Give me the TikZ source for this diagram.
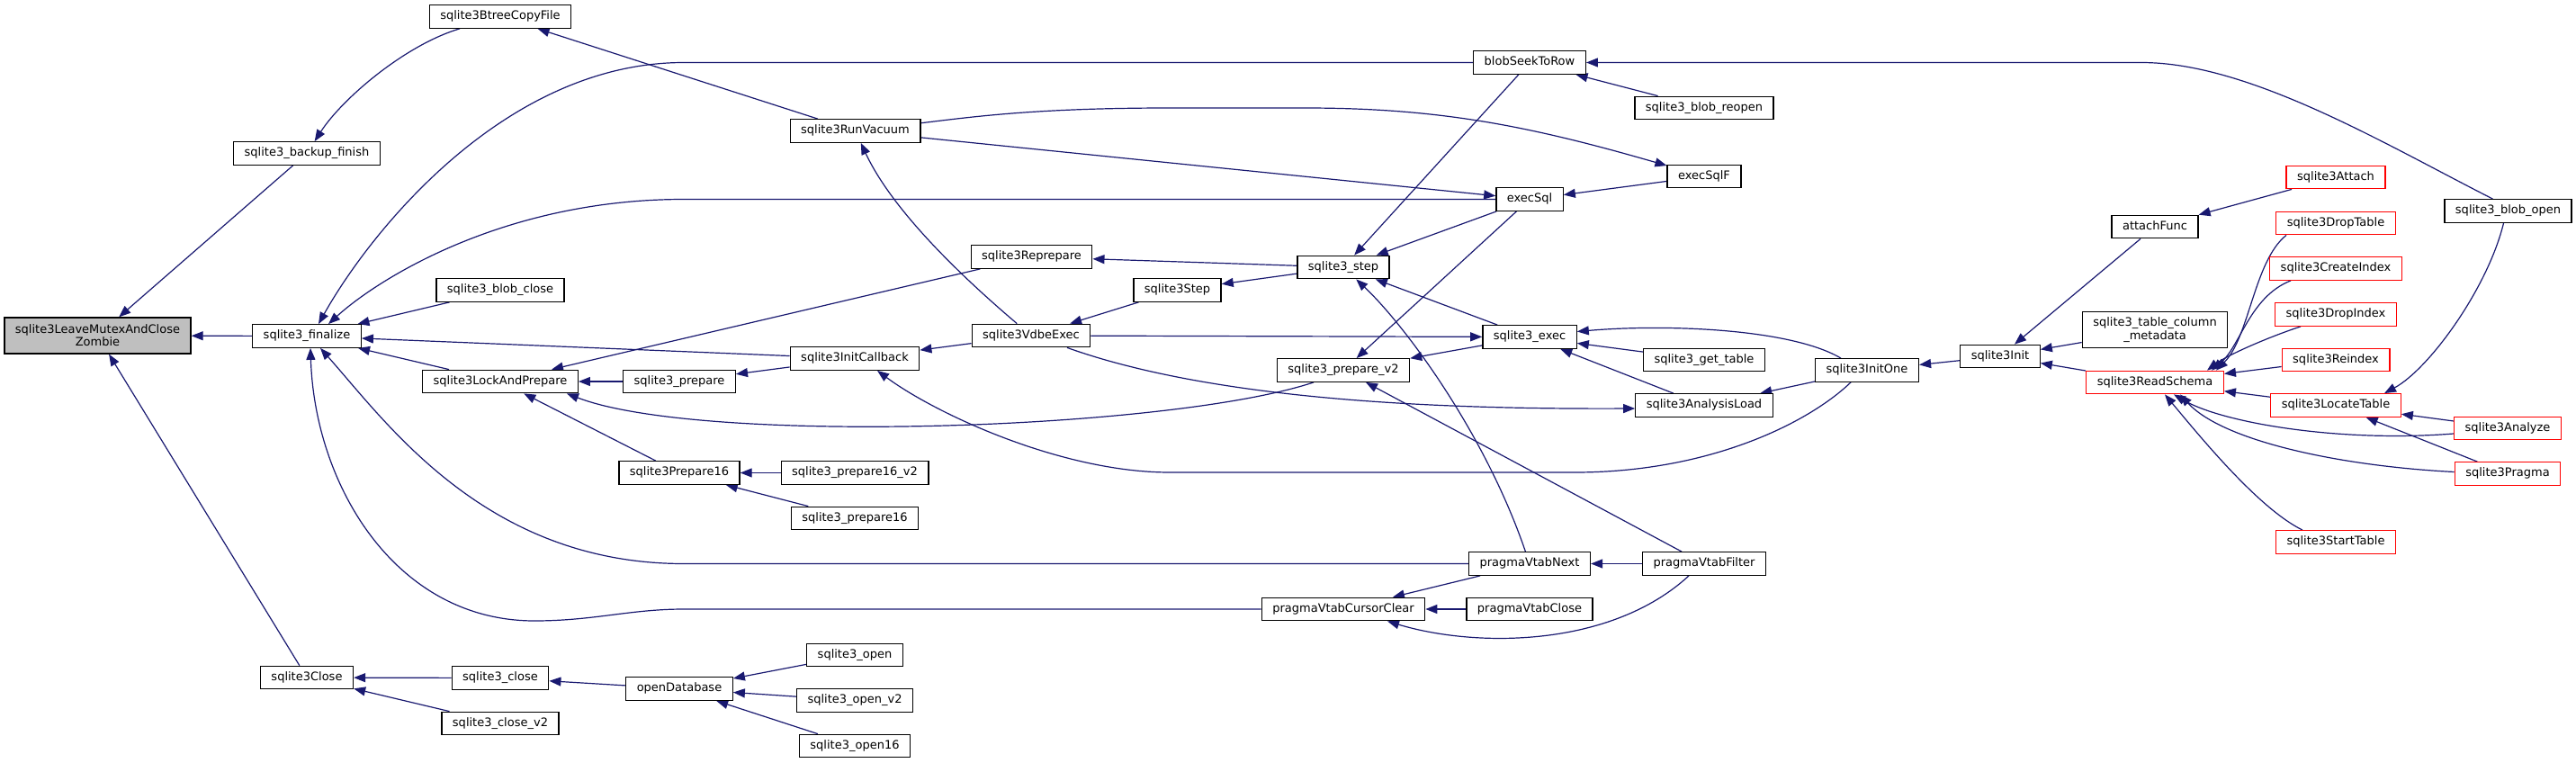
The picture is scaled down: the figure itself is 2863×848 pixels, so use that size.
\documentclass[tikz,border=0pt]{standalone}
\usepackage{fontspec}
\setmainfont{DejaVu Sans}
\usetikzlibrary{arrows.meta}
\pgfdeclarelayer{bg}
\pgfsetlayers{bg,main}
\definecolor{edgecol}{HTML}{191970}
\definecolor{rootfill}{HTML}{BFBFBF}
\definecolor{trunc}{HTML}{FF0000}
\begin{document}
\begin{tikzpicture}[x=1pt,y=-1pt,
  fn/.style={draw=black, fill=white, line width=1.3pt, inner xsep=12pt, inner ysep=0pt,
    minimum height=25.5pt, font=\fontsize{13}{14.3}\selectfont, text height=9.6pt, text depth=3pt},
  fntwo/.style={draw=black, fill=white, line width=1.3pt, inner xsep=12pt, inner ysep=2pt,
    minimum height=40pt, align=center, font=\fontsize{13}{14.3}\selectfont},
  rfn/.style={fn, draw=trunc},
  cg/.style={draw=edgecol, line width=1.2pt, arrows={Triangle[length=13pt,width=10pt]-}}]
\useasboundingbox (0,0) rectangle (2863,848);
% nodes
\node[fntwo, fill=rootfill] (root) at (108.5,373) {sqlite3LeaveMutexAndClose\\Zombie};
\node[fn] (fin) at (341,373.5) {sqlite3\_finalize};
\node[fn] (bkf) at (341,170.5) {sqlite3\_backup\_finish};
\node[fn] (cls) at (341,753) {sqlite3Close};
\node[fn] (btc) at (556,18.5) {sqlite3BtreeCopyFile};
\node[fn] (blc) at (556,322.5) {sqlite3\_blob\_close};
\node[fn] (lap) at (556,424) {sqlite3LockAndPrepare};
\node[fn] (close) at (556,753.5) {sqlite3\_close};
\node[fn] (closev2) at (556,804) {sqlite3\_close\_v2};
\node[fn] (prep) at (755,424) {sqlite3\_prepare};
\node[fn] (p16) at (755,525.5) {sqlite3Prepare16};
\node[fn] (odb) at (755,765.5) {openDatabase};
\node[fn] (rvac) at (950.5,145.5) {sqlite3RunVacuum};
\node[fn] (icb) at (950,398.5) {sqlite3InitCallback};
\node[fn] (p16v2) at (950,525.5) {sqlite3\_prepare16\_v2};
\node[fn] (p16b) at (950,576) {sqlite3\_prepare16};
\node[fn] (open) at (950,728) {sqlite3\_open};
\node[fn] (openv2) at (950,778.5) {sqlite3\_open\_v2};
\node[fn] (open16) at (950,829) {sqlite3\_open16};
\node[fn] (repr) at (1146.5,285.5) {sqlite3Reprepare};
\node[fn] (vdbe) at (1146,373) {sqlite3VdbeExec};
\node[fn] (vstep) at (1308.5,322.5) {sqlite3Step};
\node[fn] (step) at (1493,297) {sqlite3\_step};
\node[fn] (pv2) at (1493,411.5) {sqlite3\_prepare\_v2};
\node[fn] (vcc) at (1493,677) {pragmaVtabCursorClear};
\node[fn] (bstr) at (1700,69.5) {blobSeekToRow};
\node[fn] (esql) at (1700,221.5) {execSql};
\node[fn] (exec) at (1700,374.5) {sqlite3\_exec};
\node[fn] (vnext) at (1700,626.5) {pragmaVtabNext};
\node[fn] (vclose) at (1700,677) {pragmaVtabClose};
\node[fn] (breo) at (1894,120) {sqlite3\_blob\_reopen};
\node[fn] (esqf) at (1894,196) {execSqlF};
\node[fn] (gtab) at (1894,400) {sqlite3\_get\_table};
\node[fn] (aload) at (1894,450.5) {sqlite3AnalysisLoad};
\node[fn] (vfilt) at (1894,626.5) {pragmaVtabFilter};
\node[fn] (ione) at (2075,411.5) {sqlite3InitOne};
\node[fn] (init) at (2223,396) {sqlite3Init};
\node[fn] (attf) at (2395,252) {attachFunc};
\node[fntwo] (tcm) at (2395,366.7) {sqlite3\_table\_column\\\_metadata};
\node[rfn] (rsch) at (2395,425) {sqlite3ReadSchema};
\node[rfn] (att) at (2596,197) {sqlite3Attach};
\node[rfn] (dtab) at (2596,248) {sqlite3DropTable};
\node[rfn] (cidx) at (2596,298.5) {sqlite3CreateIndex};
\node[rfn] (didx) at (2596,349.5) {sqlite3DropIndex};
\node[rfn] (reidx) at (2596,400) {sqlite3Reindex};
\node[rfn] (ltab) at (2596,450.5) {sqlite3LocateTable};
\node[rfn] (stab) at (2596,602.5) {sqlite3StartTable};
\node[fn] (bopen) at (2787.5,234.5) {sqlite3\_blob\_open};
\node[rfn] (anal) at (2787,476) {sqlite3Analyze};
\node[rfn] (prag) at (2787,526.5) {sqlite3Pragma};
% edges
\begin{pgfonlayer}{bg}
\draw[cg] (root) -- (bkf);
\draw[cg] (root) -- (fin);
\draw[cg] (root) -- (cls);
\draw[cg] (bkf) .. controls (380,110) and (450,50) .. (btc);
\draw[cg] (btc) -- (rvac);
\draw[cg] ([xshift=13pt]fin.north) .. controls (410,260) and (560,69.5) .. (760,69.5) -- (bstr);
\draw[cg] ([xshift=24pt]fin.north) .. controls (420,310) and (560,221.5) .. (760,221.5) -- (esql);
\draw[cg] (fin) -- (blc);
\draw[cg] (fin) -- (icb);
\draw[cg] (fin) -- (lap);
\draw[cg] ([xshift=4pt]fin.south) .. controls (350,540) and (440,690) .. (594,690) .. controls (660,690) and (700,677) .. (760,677) -- (vcc);
\draw[cg] ([xshift=15pt]fin.south) .. controls (430,470) and (540,626.5) .. (760,626.5) -- (vnext);
\draw[cg] (lap) -- (repr);
\draw[cg] (lap) -- (prep);
\draw[cg] ([xshift=74pt]lap.south) .. controls (780,495) and (1300,478) .. ([xshift=-33pt]pv2.south);
\draw[cg] (lap) -- (p16);
\draw[cg] (prep) -- (icb);
\draw[cg] (icb) -- (vdbe);
\draw[cg] (rvac) .. controls (990,230) and (1060,300) .. (vdbe);
\draw[cg] (vdbe) -- (vstep);
\draw[cg] (repr) -- (step);
\draw[cg] (vstep) -- (step);
\draw[cg] (exec) -- (vdbe);
\draw[cg] ([yshift=-3.5pt]aload.west) .. controls (1600,455) and (1350,445) .. ([xshift=40pt]vdbe.south);
\draw[cg] (esql) -- (esqf);
\draw[cg] (esqf) .. controls (1700,140) and (1600,120) .. (1450,120) -- (1300,120) .. controls (1150,120) and (1080,130) .. (rvac);
\draw[cg] (esql) -- (rvac);
\draw[cg] (step) -- (esql);
\draw[cg] (step) -- (bstr);
\draw[cg] (pv2) -- (esql);
\draw[cg] (step) -- (exec);
\draw[cg] (step) .. controls (1560,360) and (1650,480) .. (vnext);
\draw[cg] (pv2) -- (exec);
\draw[cg] (exec) -- (gtab);
\draw[cg] ([yshift=6pt]exec.east) .. controls (1850,360) and (1990,365) .. ([xshift=-29pt]ione.north);
\draw[cg] (exec) -- (aload);
\draw[cg] (pv2) -- (vfilt);
\draw[cg] (aload) -- (ione);
\draw[cg] ([xshift=25pt]icb.south) .. controls (1040,460) and (1180,525) .. (1300,525) -- (1750,525) .. controls (1900,525) and (2010,470) .. ([xshift=-18pt]ione.south);
\draw[cg] (vcc) -- (vnext);
\draw[cg] (vnext) -- (vfilt);
\draw[cg] (vcc) -- (vclose);
\draw[cg] ([xshift=49pt]vcc.south) .. controls (1640,720) and (1790,720) .. ([xshift=-17pt]vfilt.south);
\draw[cg] (p16) -- (p16v2);
\draw[cg] (p16) -- (p16b);
\draw[cg] (cls) -- (close);
\draw[cg] (cls) -- (closev2);
\draw[cg] (close) -- (odb);
\draw[cg] (odb) -- (open);
\draw[cg] (odb) -- (openv2);
\draw[cg] (odb) -- (open16);
\draw[cg] (bstr) -- (breo);
\draw[cg] (bstr) -- (2380,69.5) .. controls (2500,69.5) and (2650,160) .. ([xshift=-17pt]bopen.north);
\draw[cg] (ione) -- (init);
\draw[cg] (init) -- (attf);
\draw[cg] (init) -- (tcm);
\draw[cg] (init) -- (rsch);
\draw[cg] (attf) -- (att);
\draw[cg] ([xshift=54pt]ltab.north) .. controls (2700,410) and (2765,320) .. ([xshift=-5pt]bopen.south);
\draw[cg] ([xshift=68pt]rsch.north) .. controls (2500,375) and (2505,290) .. ([xshift=-55pt]dtab.south);
\draw[cg] ([xshift=63pt]rsch.north) .. controls (2490,385) and (2500,330) .. ([xshift=-50pt]cidx.south);
\draw[cg] ([xshift=58pt]rsch.north) .. controls (2475,395) and (2520,375) .. ([xshift=-39pt]didx.south);
\draw[cg] (rsch) -- (reidx);
\draw[cg] (rsch) -- (ltab);
\draw[cg] ([xshift=21pt]rsch.south) .. controls (2470,470) and (2600,492) .. ([yshift=-6pt]anal.west);
\draw[cg] ([xshift=28pt]rsch.south) .. controls (2470,490) and (2600,518) .. ([yshift=2pt]prag.west);
\draw[cg] ([xshift=11pt]rsch.south) .. controls (2445,485) and (2510,565) .. ([xshift=-37pt]stab.north);
\draw[cg] (ltab) -- (anal);
\draw[cg] (ltab) -- (prag);
\end{pgfonlayer}
\end{tikzpicture}
\end{document}
